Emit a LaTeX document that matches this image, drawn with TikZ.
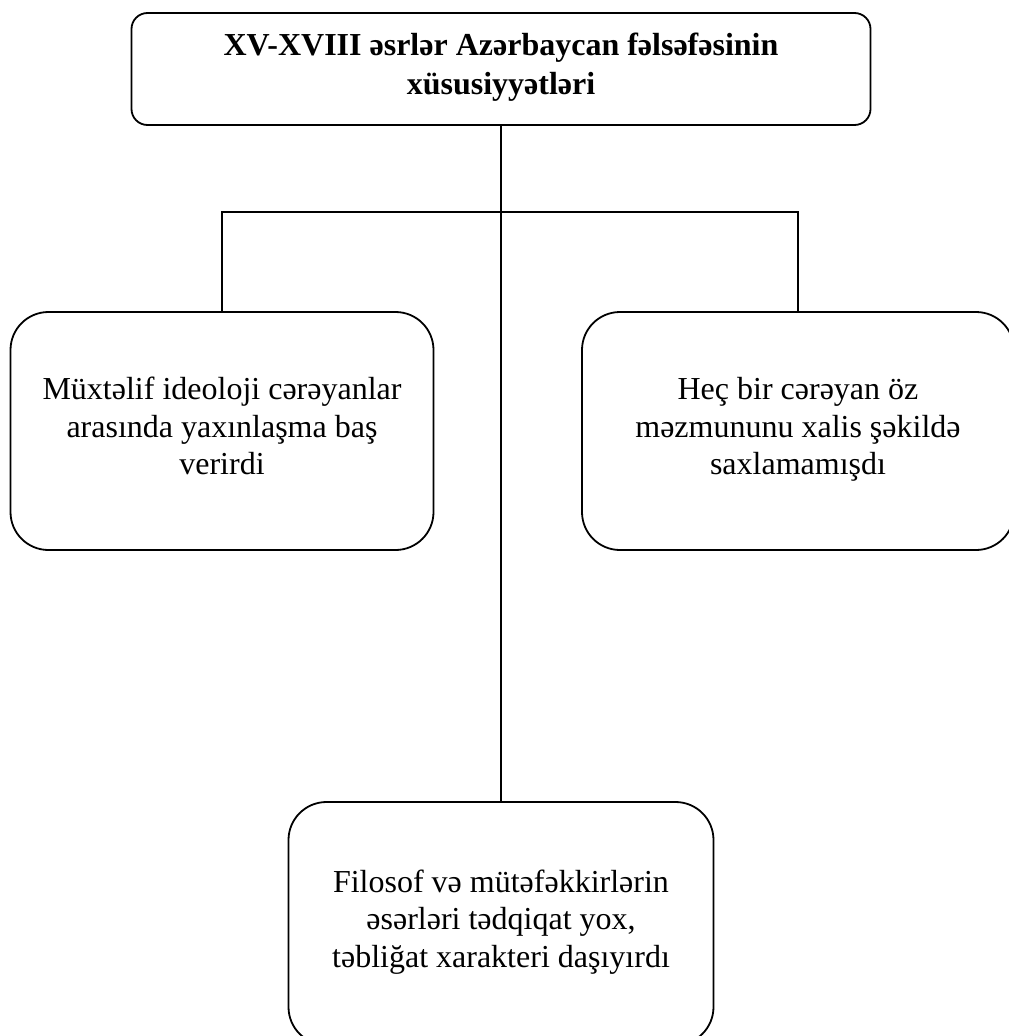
\documentclass[tikz,border=0pt]{standalone}
\usepackage{fontspec}
\setmainfont{Liberation Serif}
\begin{document}
\begin{tikzpicture}[x=1pt,y=-1pt,
  boxstyle/.style={draw=black,line width=1.8pt,fill=white,rounded corners=38pt,
    inner sep=0pt,align=center,text depth=10pt,font=\fontsize{32}{37.5}\selectfont},
  linkstyle/.style={draw=black,line width=1.3pt}]
\useasboundingbox (0,0) rectangle (1009,1036);
\clip (0,0) rectangle (1009,1036);
\node[boxstyle,rounded corners=16pt,minimum width=739pt,minimum height=112pt,
  text depth=11pt,font=\bfseries\fontsize{32}{39}\selectfont] (top) at (501,69)
  {XV-XVIII əsrlər Azərbaycan fəlsəfəsinin\\xüsusiyyətləri};
\node[boxstyle,minimum width=423pt,minimum height=238pt] (left) at (222,431)
  {Müxtəlif ideoloji cərəyanlar\\arasında yaxınlaşma baş\\verirdi};
\node[boxstyle,minimum width=432pt,minimum height=238pt] (right) at (798,431)
  {Heç bir cərəyan öz\\məzmununu xalis şəkildə\\saxlamamışdı};
\node[boxstyle,minimum width=425pt,minimum height=243pt] (bottom) at (501,923.5)
  {Filosof və mütəfəkkirlərin\\əsərləri tədqiqat yox,\\təbliğat xarakteri daşıyırdı};
\coordinate (j) at (501,212);
\draw[linkstyle] (top.south) -- (bottom.north);
\draw[linkstyle] (left.north) |- (j) -| (right.north);
\end{tikzpicture}
\end{document}
